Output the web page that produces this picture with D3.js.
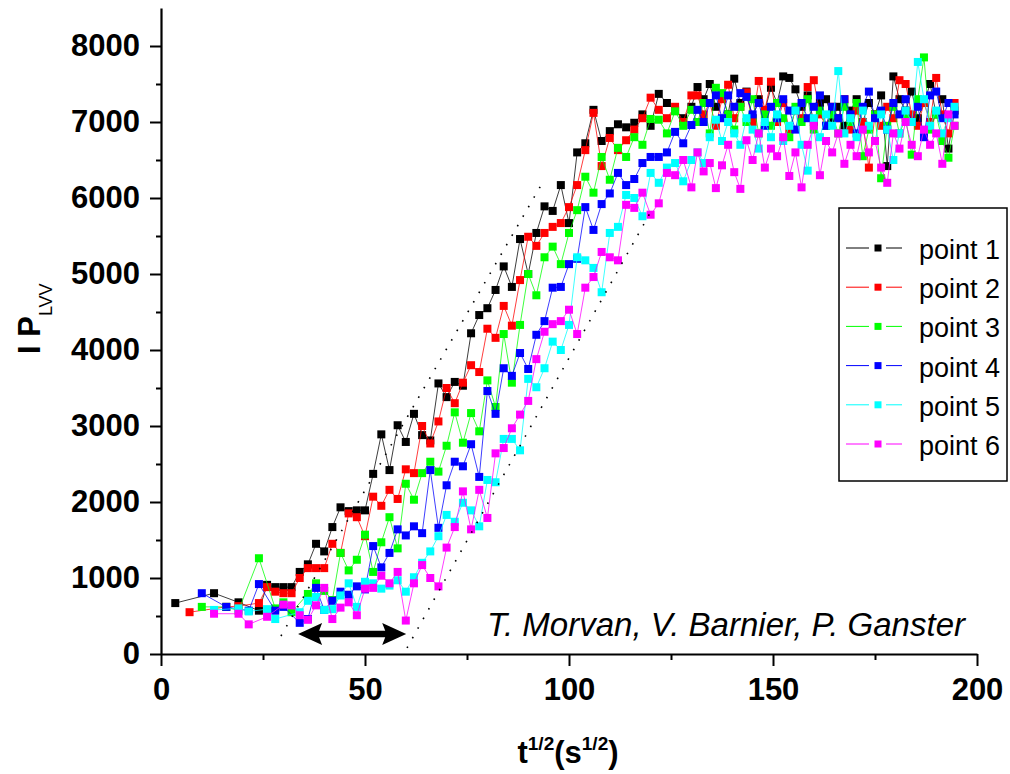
<!DOCTYPE html>
<html><head><meta charset="utf-8">
<script src="https://cdn.jsdelivr.net/npm/d3@7"></script>
<style>body{margin:0;background:#fff}svg{display:block}</style>
</head><body><svg id="c" width="1010" height="774"></svg>
<script>
// x values: t^(1/2) in s^(1/2)
const T = [3.5, 7, 10, 13, 16, 19, 21.5, 24, 26, 28,
 30, 32, 34, 36, 38, 40, 42, 44, 46, 48,
 50, 52, 54, 56, 58, 60, 62, 64, 66, 68,
 70, 72, 74, 76, 78, 80, 82, 84, 86, 88,
 90, 92, 94, 96, 98, 100, 102, 104, 106, 108,
 110, 112, 114, 116, 118, 120, 122, 124, 126, 128,
 130, 131.5, 133, 134.5, 136, 137.5, 139, 140.5, 142, 143.5,
 145, 146.5, 148, 149.5, 151, 152.5, 154, 155.5, 157, 158.5,
 160, 161.5, 163, 164.5, 166, 167.5, 169, 170.5, 172, 173.5,
 175, 176.5, 178, 179.5, 181, 182.5, 184, 185.5, 187, 188.5,
 190, 191.5, 193, 194.5];

const point1 = [670, null, null, 800, null, 680, null, 570, 910, 880,
 880, 880, 1080, 1180, 1450, 1350, 1670, 1930, 1880, 1890,
 1890, 2370, 2890, 2420, 3010, 2790, 3160, 2880, 2810, 3560,
 3380, 3580, 3530, 4220, 4460, 4550, 4790, 5100, 4830, 5460,
 5000, 5540, 5890, 5830, 6170, 5670, 6600, 6720, 7160, 6750,
 6880, 6970, 6930, 6990, 7100, 6950, 7370, 7250, 7150, 7050,
 7200, 7460, 7300, 7500, 7200, 7350, 7100, 7570, 7250, 7400,
 7050, 7300, 7150, 7450, 7250, 7600, 7580, 7430, 7200, 7350,
 7000, 7250, 7300, 7050, 7200, 6950, 7150, 7300, 7000, 7250,
 7100, 7350, 6420, 7600, 7300, 7150, 7400, 7050, 7250, 7500,
 7100, 7300, 6650, 7150];

const point2 = [null, 550, null, null, 620, 630, null, 670, 880, 820,
 800, 800, 1000, 1130, 1130, 1130, 1450, 1330, 1850, 1800,
 1550, 2070, 1950, 2160, 2040, 2430, 2380, 3000, 2770, 3060,
 3500, 3300, 3570, 3800, 3710, 4280, 4160, 4580, 4320, 4920,
 5490, 5370, 5540, 5620, 5670, 5880, 6170, 6630, 7120, 6420,
 6790, 6630, 6760, 6900, 7050, 7320, 7160, 7050, 7200, 7000,
 7350, 7350, 7100, 7250, 6950, 7300, 7490, 7050, 7200, 7390,
 7000, 7540, 7160, 7530, 7000, 7250, 6900, 7150, 7050, 7460,
 7550, 7100, 6950, 7200, 7050, 7300, 6900, 7150, 7000, 6400,
 7100, 6950, 7200, 7050, 7550, 7500, 7100, 6950, 7250, 7000,
 7580, 7100, 6850, 7250];

const point3 = [null, null, 620, null, 620, 570, null, 1260, null, 600,
 680, 550, null, 790, 930, 830, 710, 1330, 1100, 1240,
 1570, 1080, 1470, 1800, 1390, 2240, 2030, 2380, 2530, 2400,
 2740, 3180, 2780, 3170, 2930, 3600, 3250, 4210, 3570, 4330,
 5000, 4720, 5220, 5360, 5130, 5540, 5840, 6280, 6070, 6540,
 6240, 6660, 6540, 6800, 6700, 7040, 7030, 6850, 7140, 6950,
 7160, 7000, 7250, 6850, 7450, 7380, 7100, 6900, 7200, 7000,
 7300, 6850, 7100, 6950, 7250, 7050, 6800, 7200, 7000, 7300,
 6900, 7150, 6950, 7100, 6850, 7200, 7000, 7250, 6550, 6900,
 7100, 6260, 6950, 7200, 6850, 7050, 6570, 7300, 7850, 6900,
 7100, 6750, 6530, 6950];

const point4 = [null, null, 800, null, 620, null, 570, 920, null, 570,
 620, null, 410, 460, 870, 580, 700, 820, 780, 890,
 850, 1420, 1140, 1330, 1640, 1560, 1680, 1590, 2420, 1660,
 2220, 2530, 2470, 2760, 2330, 3460, 3160, 3760, 3660, 3960,
 3750, 4200, 4380, 4820, 4830, 5130, 5200, 5880, 5580, 5920,
 6060, 6330, 6170, 6250, 6460, 6540, 6540, 6600, 6870, 6720,
 6960, 7160, 7000, 7250, 7350, 7050, 7350, 7200, 7380, 7330,
 7100, 7250, 6950, 7200, 7050, 7300, 7150, 6900, 7250, 7050,
 7200, 7350, 6950, 7200, 7050, 7300, 7100, 6850, 7200, 7400,
 7050, 7150, 6900, 7250, 7100, 7300, 7000, 7200, 6800, 7350,
 7400, 7050, 7250, 7100];

const point5 = [null, null, null, 580, null, 600, 560, null, 590, 460,
 null, null, 550, 700, 750, 580, 590, 770, 930, 620,
 950, 930, 860, 900, 970, 820, 1010, 1200, 1350, 1550,
 1830, 1740, 1990, 1890, 1680, 2290, 2260, 2830, 2830, 2680,
 3620, 3510, 3760, 4110, 4000, 4330, 5220, 5180, 5080, 4760,
 5540, 5620, 6040, 6000, 5760, 6330, 6200, 6400, 6460, 6220,
 6500, 6600, 6460, 6800, 7030, 6750, 7000, 6850, 6700, 7050,
 6900, 6650, 7000, 6800, 7100, 6750, 6950, 7150, 6700, 6360,
 7050, 6800, 7100, 6950, 7670, 6850, 7050, 6800, 7150, 6950,
 6750, 7100, 6900, 6500, 6850, 7150, 7000, 7790, 7300, 6950,
 7150, 6850, 7050, 7200];

const point6 = [null, null, null, 530, null, 530, 390, null, 490, null,
 650, 640, 510, 450, 640, 870, 460, 610, 680, 510,
 860, 870, 1030, 930, 1080, 440, 930, 1170, 1000, 890,
 1400, 1670, 2140, 1640, 2160, 1790, 2640, 2710, 2970, 3150,
 3330, 3880, 4240, 4340, 4380, 4530, 4210, 4820, 4960, 5290,
 5220, 5180, 5910, 5870, 6070, 5780, 5930, 6330, 6300, 6500,
 6140, 6600, 6350, 6460, 6130, 6430, 6700, 6340, 6120, 6760,
 6500, 6850, 6400, 6650, 6550, 6800, 6290, 6600, 6140, 6700,
 6950, 6300, 6750, 6600, 6850, 6450, 6700, 6550, 6900, 6600,
 6750, 6400, 6200, 6850, 6650, 7000, 6700, 6550, 6900, 6700,
 6850, 6450, 7100, 6950];

const seriesNames = ["point 1", "point 2", "point 3", "point 4", "point 5", "point 6"];
const seriesValues = [point1, point2, point3, point4, point5, point6];
const seriesColors = ["#000000", "#ff0000", "#00ff00", "#0000ff", "#00ffff", "#ff00ff"];

const xTicks = [0, 50, 100, 150, 200];
const xMinor = [25, 75, 125, 175];
const yTicks = [0, 1000, 2000, 3000, 4000, 5000, 6000, 7000, 8000];
const yMinor = [500, 1500, 2500, 3500, 4500, 5500, 6500, 7500];

// annotation geometry in data units
const guideUpper = [[29.4, 237], [93.6, 6210]];
const guideLower = [[60.3, 80], [120, 5815]];
const arrowSpan = [[33.6, 263], [60.1, 263]];
const credit = "T. Morvan, V. Barnier, P. Ganster";

const FONT = "'Liberation Sans', Arial, Helvetica, sans-serif";
const svg = d3.select("#c");
const x = d3.scaleLinear().domain([0, 200]).range([161, 977]);
const y = d3.scaleLinear().domain([0, 8500]).range([654, 8]);

// series
const line = d3.line().x(d => x(d[0])).y(d => y(d[1]));
seriesValues.forEach((vals, i) => {
  const pts = T.map((t, k) => [t, vals[k]]).filter(d => d[1] !== null);
  const g = svg.append("g");
  g.append("path").attr("d", line(pts)).attr("fill", "none")
    .attr("stroke", seriesColors[i]).attr("stroke-width", 0.9).attr("stroke-opacity", 0.85);
  g.selectAll("rect").data(pts).join("rect")
    .attr("x", d => x(d[0]) - 4).attr("y", d => y(d[1]) - 4)
    .attr("width", 8).attr("height", 8).attr("fill", seriesColors[i]);
});

// guide dotted lines
[guideUpper, guideLower].forEach(gl => {
  svg.append("line")
    .attr("x1", x(gl[0][0])).attr("y1", y(gl[0][1]))
    .attr("x2", x(gl[1][0])).attr("y2", y(gl[1][1]))
    .attr("stroke", "#000").attr("stroke-width", 1.6).attr("stroke-dasharray", "1.6,9.4");
});

// double arrow
{
  const x1 = x(arrowSpan[0][0]), x2 = x(arrowSpan[1][0]), yy = y(arrowSpan[0][1]);
  const hl = 24, hh = 11, lw = 3.2;
  const p = d3.path();
  p.moveTo(x1, yy);
  p.lineTo(x1 + hl, yy - hh);
  p.lineTo(x1 + hl - 3, yy - lw);
  p.lineTo(x2 - hl + 3, yy - lw);
  p.lineTo(x2 - hl, yy - hh);
  p.lineTo(x2, yy);
  p.lineTo(x2 - hl, yy + hh);
  p.lineTo(x2 - hl + 3, yy + lw);
  p.lineTo(x1 + hl - 3, yy + lw);
  p.lineTo(x1 + hl, yy + hh);
  p.closePath();
  svg.append("path").attr("d", p.toString()).attr("fill", "#000");
}

// axes
function styleAxis(g) {
  g.select(".domain").attr("stroke-width", 2.2);
  g.selectAll(".tick line").attr("stroke-width", 2);
  g.selectAll(".tick text").attr("font-family", FONT).attr("font-weight", "bold")
    .attr("font-size", 31).attr("fill", "#000");
}
const fmt = d3.format("d");
svg.append("g").attr("transform", "translate(0,654)")
  .call(d3.axisBottom(x).tickValues(xMinor).tickSize(6).tickSizeOuter(0).tickFormat(""))
  .call(g => g.select(".domain").remove())
  .call(g => g.selectAll(".tick line").attr("stroke-width", 2));
svg.append("g").attr("transform", "translate(0,654)")
  .call(d3.axisBottom(x).tickValues(xTicks).tickSize(12).tickSizeOuter(0).tickPadding(12).tickFormat(fmt))
  .call(styleAxis);
svg.append("g").attr("transform", "translate(161,0)")
  .call(d3.axisLeft(y).tickValues(yMinor).tickSize(5).tickSizeOuter(0).tickFormat(""))
  .call(g => g.select(".domain").remove())
  .call(g => g.selectAll(".tick line").attr("stroke-width", 2));
svg.append("g").attr("transform", "translate(161,0)")
  .call(d3.axisLeft(y).tickValues(yTicks).tickSize(11).tickSizeOuter(0).tickPadding(10).tickFormat(fmt))
  .call(styleAxis);

// axis titles
const yt = svg.append("text").attr("transform", "translate(40,354) rotate(-90)")
  .attr("font-family", FONT).attr("font-weight", "bold").attr("font-size", 31);
yt.append("tspan").text("I P");
yt.append("tspan").attr("font-size", 18).attr("font-weight", "normal").attr("dy", 12).text("LVV");

const xt = svg.append("text").attr("x", 568).attr("y", 763).attr("text-anchor", "middle")
  .attr("font-family", FONT).attr("font-weight", "bold").attr("font-size", 31);
xt.append("tspan").text("t");
xt.append("tspan").attr("font-size", 19).attr("dy", -13).text("1/2");
xt.append("tspan").attr("dy", 13).text("(s");
xt.append("tspan").attr("font-size", 19).attr("dy", -13).text("1/2");
xt.append("tspan").attr("dy", 13).text(")");

// credit text
svg.append("text").attr("x", 965).attr("y", 636).attr("text-anchor", "end")
  .attr("font-family", FONT).attr("font-style", "italic").attr("font-size", 33)
  .attr("fill", "#000").text(credit);

// legend
const lg = svg.append("g");
lg.append("rect").attr("x", 839).attr("y", 208).attr("width", 168).attr("height", 273)
  .attr("fill", "#fff").attr("stroke", "#000").attr("stroke-width", 1.5);
seriesNames.forEach((name, i) => {
  const ry = 248 + i * 39.2;
  lg.append("line").attr("x1", 846).attr("x2", 869).attr("y1", ry).attr("y2", ry)
    .attr("stroke", seriesColors[i]).attr("stroke-width", 1);
  lg.append("line").attr("x1", 886).attr("x2", 902).attr("y1", ry).attr("y2", ry)
    .attr("stroke", seriesColors[i]).attr("stroke-width", 1);
  lg.append("rect").attr("x", 874.5).attr("y", ry - 3.5).attr("width", 7).attr("height", 7)
    .attr("fill", seriesColors[i]);
  lg.append("text").attr("x", 919).attr("y", ry + 11).attr("font-family", FONT)
    .attr("font-size", 27).attr("fill", "#000").text(name);
});
</script></body></html>
